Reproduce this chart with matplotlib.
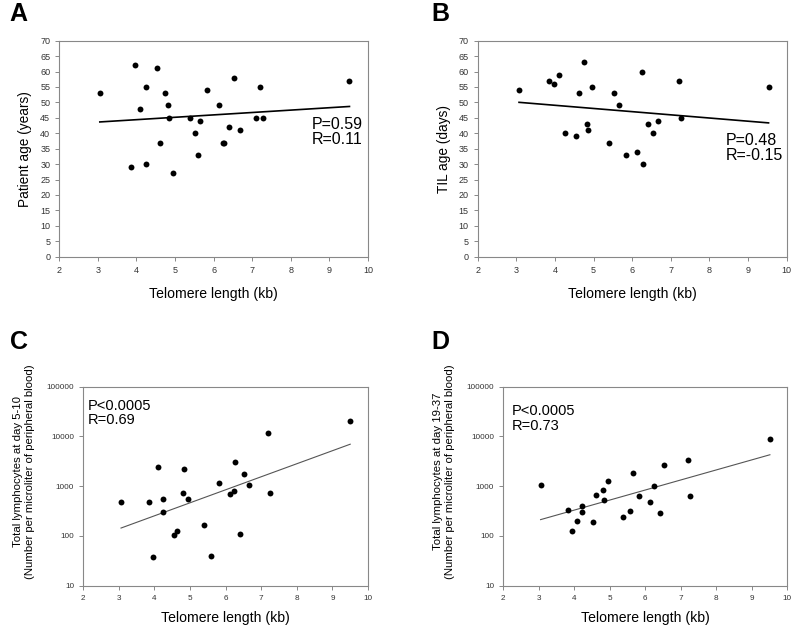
import numpy as np
import matplotlib.pyplot as plt
from matplotlib.ticker import FixedLocator, NullLocator, FuncFormatter

plt.rcParams['font.family'] = ['Liberation Sans', 'DejaVu Sans']

# Panel A: telomere length vs patient age
a_x = [3.05, 3.96, 3.85, 4.10, 4.25, 4.25, 4.54, 4.62, 4.75, 4.82, 4.85, 4.95, 5.39, 5.52,
       5.59, 5.65, 5.83, 6.13, 6.24, 6.28, 6.41, 6.53, 6.67, 7.11, 7.20, 7.27, 9.52]
a_y = [53, 62, 29, 48, 55, 30, 61, 37, 53, 49, 45, 27, 45, 40,
       33, 44, 54, 49, 37, 37, 42, 58, 41, 45, 55, 45, 57]

# Panel B: telomere length vs TIL age
b_x = [3.07, 3.85, 3.97, 4.11, 4.25, 4.55, 4.62, 4.75, 4.83, 4.86, 4.95, 5.39, 5.52, 5.65,
       5.83, 6.13, 6.25, 6.28, 6.42, 6.53, 6.67, 7.20, 7.26, 9.53]
b_y = [54, 57, 56, 59, 40, 39, 53, 63, 43, 41, 55, 37, 53, 49,
       33, 34, 60, 30, 43, 40, 44, 57, 45, 55]

# Panel C: lymphocytes day 5-10
c_x = [3.06, 3.84, 3.96, 4.10, 4.25, 4.25, 4.54, 4.62, 4.81, 4.84, 4.95, 5.39, 5.58, 5.82,
       6.12, 6.24, 6.26, 6.41, 6.52, 6.67, 7.19, 7.26, 9.50]
c_y = [481, 481, 38, 2466, 543, 307, 104, 124, 718, 2249, 543, 168, 39, 1140,
       697, 787, 3106, 109, 1730, 1054, 11720, 718, 20760]

# Panel D: lymphocytes day 19-37
d_x = [3.05, 3.83, 3.94, 4.08, 4.23, 4.23, 4.53, 4.61, 4.82, 4.84, 4.94, 5.38, 5.57, 5.64,
       5.83, 6.13, 6.24, 6.42, 6.53, 7.19, 7.27, 9.51]
d_y = [1072, 337, 128, 199, 405, 303, 188, 655, 838, 527, 1250, 244, 312, 1840,
       644, 473, 993, 284, 2666, 3306, 625, 8870]

stats = ["P=0.59\nR=0.11", "P=0.48\nR=-0.15", "P<0.0005\nR=0.69", "P<0.0005\nR=0.73"]
letters = ["A", "B", "C", "D"]
ylabels = ["Patient age (years)", "TIL age (days)",
           "Total lymphocytes at day 5-10\n(Number per microliter of peripheral blood)",
           "Total lymphocytes at day 19-37\n(Number per microliter of peripheral blood)"]

W, H = 800, 633
fig = plt.figure(figsize=(8, 6.33), dpi=100)


def px_axes(l, t, r, b):
    return fig.add_axes([l / W, 1 - b / H, (r - l) / W, (b - t) / H])


boxes = [(59.3, 40.7, 368, 256.7), (477.7, 40.7, 786.7, 256.7),
         (83.3, 386.7, 368, 585.7), (503.3, 386.7, 787.3, 585.7)]
text_pos = [(0.817, 0.648), (0.804, 0.574), (0.014, 0.94), (0.029, 0.912)]
text_size = [11.5, 11.5, 10.5, 10.5]
letter_pos = [(9, 2), (431, 2), (10, 330), (431, 330)]
data = [(a_x, a_y), (b_x, b_y), (c_x, c_y), (d_x, d_y)]

for i, (box, (x, y)) in enumerate(zip(boxes, data)):
    ax = px_axes(*box)
    x = np.array(x)
    y = np.array(y, dtype=float)
    wpx = box[2] - box[0]
    ax.scatter(x, y, s=18, color='black', zorder=3, linewidths=0)
    xs = np.array([x.min(), x.max()])
    if i >= 2:
        # fit in log space, drawn as thin grey line
        k, c0 = np.polyfit(x, np.log10(y), 1)
        ax.plot(xs, 10 ** (k * xs + c0), color='#555555', lw=0.8)
        ax.set_yscale('log')
        ax.set_ylim(10, 100000)
        ax.yaxis.set_major_locator(FixedLocator([10, 100, 1000, 10000, 100000]))
        ax.yaxis.set_minor_locator(NullLocator())
        ax.yaxis.set_major_formatter(FuncFormatter(lambda v, p: f"{int(round(v))}"))
        ax.set_ylabel(ylabels[i], fontsize=8.2, linespacing=1.3)
        ax.yaxis.set_label_coords(-48 / wpx, 0.574)
        tsize, lpad = 5.9, 7
    else:
        k, c0 = np.polyfit(x, y, 1)
        ax.plot(xs, k * xs + c0, color='black', lw=1.2)
        ax.set_ylim(0, 70)
        ax.set_yticks(np.arange(0, 71, 5))
        ax.set_ylabel(ylabels[i], fontsize=9.8)
        ax.yaxis.set_label_coords(-27 / wpx, 0.5)
        tsize, lpad = 6.5, 9
    ax.set_xlim(2, 10)
    ax.set_xticks(np.arange(2, 11, 1))
    ax.set_xlabel("Telomere length (kb)", fontsize=10.1, labelpad=lpad)
    for s in ax.spines.values():
        s.set_color('#888888')
        s.set_linewidth(0.8)
    ax.tick_params(direction='out', length=3, width=0.7, color='#888888',
                   labelsize=tsize, pad=3.5, labelcolor='#333333')
    ax.text(text_pos[i][0], text_pos[i][1], stats[i], transform=ax.transAxes,
            fontsize=text_size[i], va='top', ha='left', linespacing=1.05)
    fig.text(letter_pos[i][0] / W, 1 - letter_pos[i][1] / H, letters[i],
             fontsize=18, fontweight='bold', va='top', ha='left')

fig.savefig('out.png', dpi=100)
